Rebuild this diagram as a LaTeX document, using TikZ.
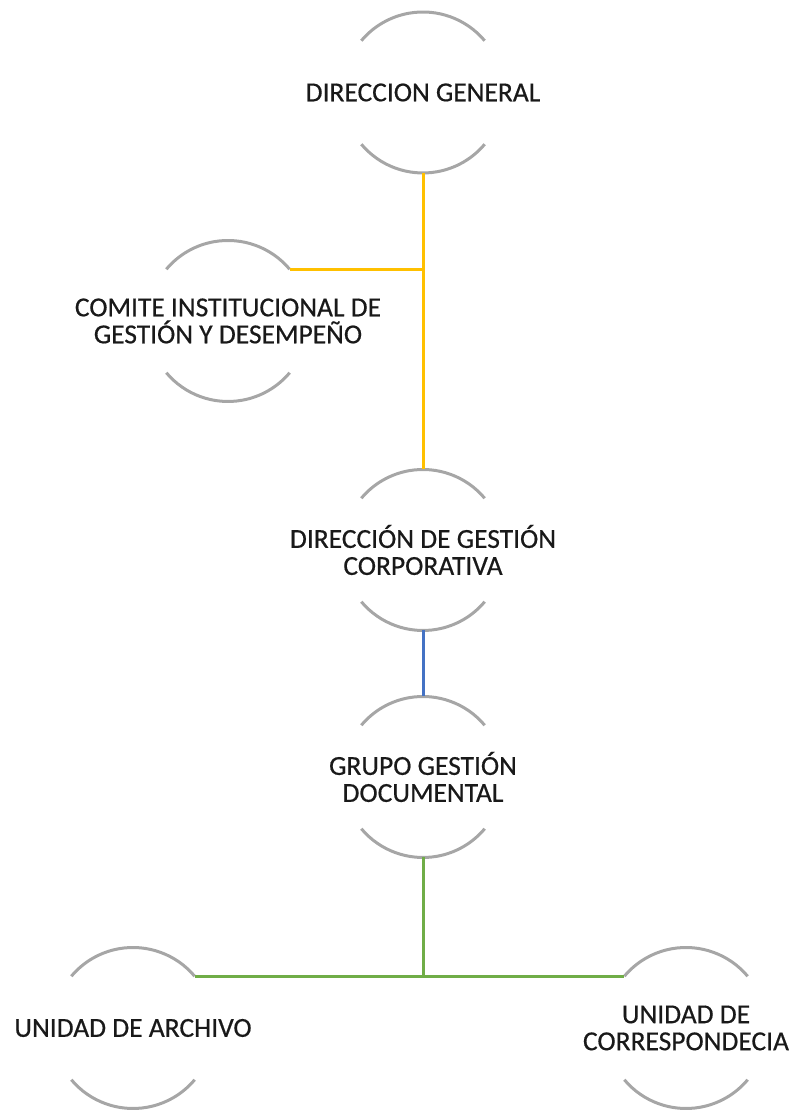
\documentclass[tikz,border=0pt]{standalone}
\usepackage{fontspec}
\setmainfont{Carlito}
\newfontfamily\labelfont[FakeBold=0.5]{Carlito}
\definecolor{ringgray}{RGB}{166,166,166}
\definecolor{offgold}{RGB}{255,192,0}
\definecolor{offblue}{RGB}{68,114,196}
\definecolor{offgreen}{RGB}{112,173,71}
\tikzset{
  ring/.style={circle,minimum size=161pt,inner sep=0pt,outer sep=0pt},
  label text/.style={align=center,inner sep=0pt,text=black!90,font=\labelfont\fontsize{27.5}{27}\selectfont},
  arcline/.style={draw=ringgray,line width=3pt},
  goldline/.style={draw=offgold,line width=3pt},
  blueline/.style={draw=offblue,line width=3pt},
  greenline/.style={draw=offgreen,line width=3pt}
}
\begin{document}
\begin{tikzpicture}[x=1pt,y=1pt]
  \useasboundingbox (0,0) rectangle (797,1110);
  \draw
    (423,1017.5) node[ring] (dg){}
    (228,789) node[ring] (cig){}
    (423,560) node[ring] (dgc){}
    (423,333) node[ring] (ggd){}
    (133,82) node[ring] (ua){}
    (686,82) node[ring] (uc){};
  \node[label text] (dg-t) at (dg) {DIRECCION GENERAL};
  \node[label text] (cig-t) at (cig) {COMITE INSTITUCIONAL DE\\GESTIÓN Y DESEMPEÑO};
  \node[label text] (dgc-t) at (dgc) {DIRECCIÓN DE GESTIÓN\\CORPORATIVA};
  \node[label text] (ggd-t) at (ggd) {GRUPO GESTIÓN\\DOCUMENTAL};
  \node[label text] (ua-t) at (ua) {UNIDAD DE ARCHIVO};
  \node[label text] (uc-t) at (uc) {UNIDAD DE\\CORRESPONDECIA};
  \foreach \n in {dg,cig,dgc,ggd,ua,uc} {
    \draw[arcline] (\n.40) arc (40:140:80.5);
    \draw[arcline] (\n.220) arc (220:320:80.5);
  }
  \begin{scope}[-]
    \draw[goldline] (dg.south) to (dgc.north);
    \draw[goldline] (cig.40) to (cig.40 -| dg.south);
    \draw[blueline] (dgc.south) to (ggd.north);
    \draw[greenline] (ggd.south) to (ggd.south |- ua.40);
    \draw[greenline] (ua.40) to (uc.140);
  \end{scope}
\end{tikzpicture}
\end{document}
